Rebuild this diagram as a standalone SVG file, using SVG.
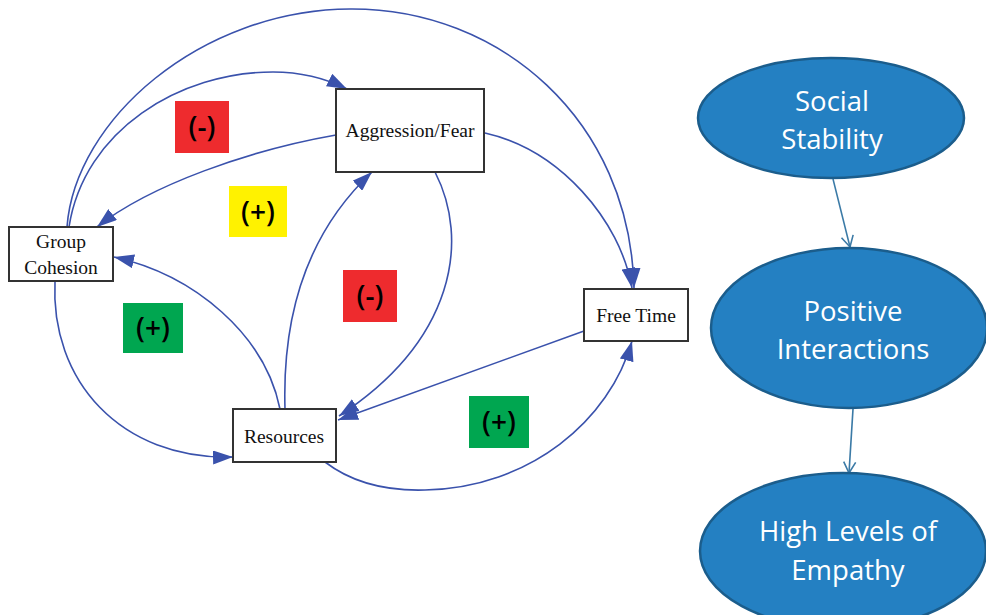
<svg xmlns="http://www.w3.org/2000/svg" width="986" height="615" viewBox="0 0 986 615">
<style>
.box{fill:#fff;stroke:#333;stroke-width:2}
.bt{font-family:"Liberation Serif",serif;font-size:19.5px;fill:#111;text-anchor:middle}
.edge{fill:none;stroke:#3a52ac;stroke-width:1.6}
.lab{font-family:"Open Sans","Liberation Sans",sans-serif;font-size:28px;font-weight:600;fill:#000;text-anchor:middle}
.ell{fill:#2480c2;stroke:#1b5d8c;stroke-width:2.5}
.et{font-family:"Open Sans","Liberation Sans",sans-serif;font-size:27.5px;fill:#fff;text-anchor:middle}
.e2{fill:none;stroke:#3b7aa6;stroke-width:1.6}
</style>
<defs>
<marker id="ah" markerUnits="userSpaceOnUse" markerWidth="20" markerHeight="14" refX="20" refY="7" orient="auto">
<path d="M0,0 L20,7 L0,14 z" fill="#3a52ac"/>
</marker>
<marker id="va" markerUnits="userSpaceOnUse" markerWidth="14" markerHeight="14" refX="12" refY="7" orient="auto">
<path d="M1,1 L12,7 L1,13" fill="none" stroke="#3b7aa6" stroke-width="1.6"/>
</marker>
</defs>
<rect width="986" height="615" fill="#fff"/>
<g id="connectors">
<path class="edge" marker-end="url(#ah)" d="M67,227 C75,120 200,10 350,9 C500,8 630,120 634,288"/>
<path class="edge" marker-end="url(#ah)" d="M69,227 C84,130 180,72 273,72 C300,72 325,78 347,89"/>
<path class="edge" marker-end="url(#ah)" d="M336,135 C250,150 150,185 97,227"/>
<path class="edge" marker-end="url(#ah)" d="M485,133 C560,150 620,220 632,288"/>
<path class="edge" marker-end="url(#ah)" d="M435,172 C470,240 455,340 339,416"/>
<path class="edge" marker-end="url(#ah)" d="M285,409 C282,310 310,230 372,172"/>
<path class="edge" marker-end="url(#ah)" d="M280,409 C265,335 195,275 114,257"/>
<path class="edge" marker-end="url(#ah)" d="M584,331 L338,420"/>
<path class="edge" marker-end="url(#ah)" d="M55,281 C50,380 120,460 233,457"/>
<path class="edge" marker-end="url(#ah)" d="M325,462 C355,485 390,491 425,490 C530,488 610,420 632,341"/>
<path class="e2" marker-end="url(#va)" d="M833,179 L850,247"/>
<path class="e2" marker-end="url(#va)" d="M853,409 L849,473"/>
</g>
<g id="aggression">
<rect class="box" x="336" y="89" width="148" height="83"/>
<text class="bt" x="410" y="137">Aggression/Fear</text>
</g>
<g id="group-cohesion">
<rect class="box" x="9" y="227" width="104" height="54"/>
<text class="bt" x="61" y="248">Group</text>
<text class="bt" x="61" y="274">Cohesion</text>
</g>
<g id="resources">
<rect class="box" x="233" y="409" width="103" height="53"/>
<text class="bt" x="284" y="443">Resources</text>
</g>
<g id="free-time">
<rect class="box" x="584" y="289" width="104" height="52"/>
<text class="bt" x="636" y="322">Free Time</text>
</g>
<g id="label-1"><rect x="175" y="101" width="54" height="52" fill="#ee2b2e"/><text class="lab" x="202" y="137">(-)</text></g>
<g id="label-2"><rect x="229" y="186" width="58" height="51" fill="#fff200"/><text class="lab" x="258" y="222">(+)</text></g>
<g id="label-3"><rect x="343" y="270" width="54" height="52" fill="#ee2b2e"/><text class="lab" x="370" y="306">(-)</text></g>
<g id="label-4"><rect x="123" y="303" width="60" height="50" fill="#00a650"/><text class="lab" x="153" y="338">(+)</text></g>
<g id="label-5"><rect x="469" y="396" width="60" height="52" fill="#00a650"/><text class="lab" x="499" y="432">(+)</text></g>
<g id="social-stability">
<ellipse class="ell" cx="831" cy="118" rx="133" ry="60"/>
<text class="et" x="832" y="111">Social</text>
<text class="et" x="832" y="149">Stability</text>
</g>
<g id="positive-interactions">
<ellipse class="ell" cx="849" cy="328" rx="138" ry="80"/>
<text class="et" x="853" y="321">Positive</text>
<text class="et" x="853" y="359">Interactions</text>
</g>
<g id="high-empathy">
<ellipse class="ell" cx="843" cy="551" rx="143" ry="78"/>
<text class="et" x="848" y="541">High Levels of</text>
<text class="et" x="848" y="580">Empathy</text>
</g>
</svg>
